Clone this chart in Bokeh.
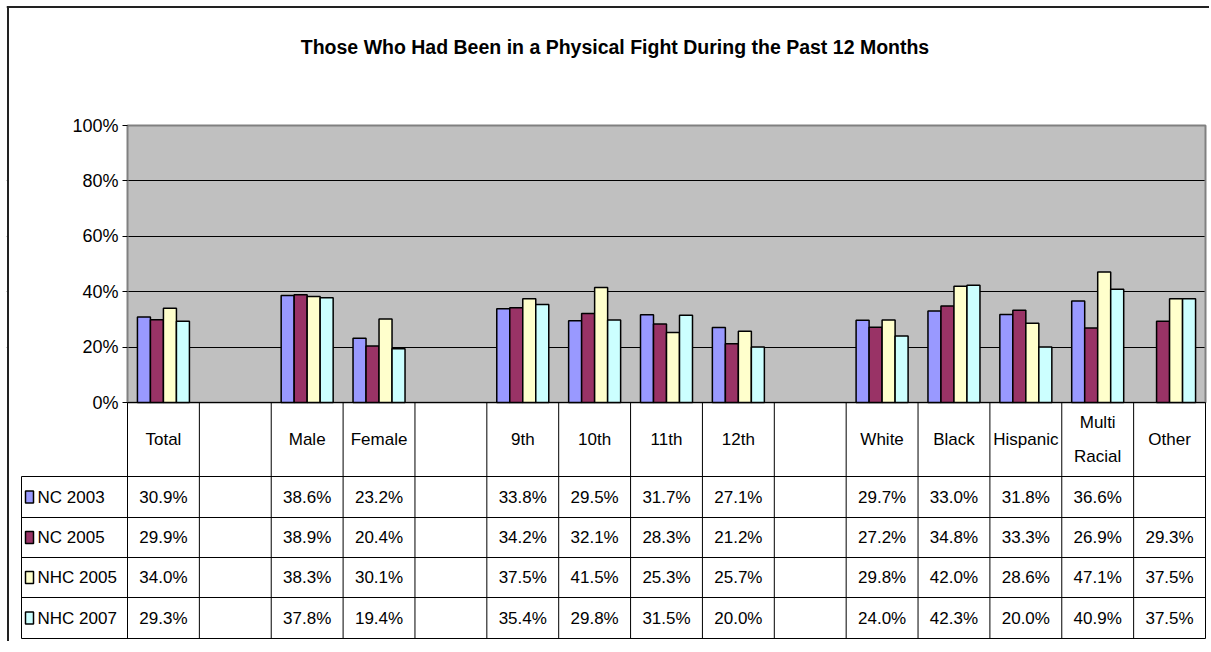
import math
from bokeh.plotting import figure
from bokeh.models import ColumnDataSource, Range1d, FixedTicker, NumeralTickFormatter
from bokeh.transform import dodge
from bokeh.core.properties import value
from bokeh.embed import file_html
from bokeh.resources import INLINE

# ---------------- data ----------------
categories = ["Total", "", "Male", "Female", "", "9th", "10th", "11th", "12th", "",
              "White", "Black", "Hispanic", "Multi Racial", "Other"]
series_names = ["NC 2003", "NC 2005", "NHC 2005", "NHC 2007"]
nan = float("nan")
nc2003 = [30.9, nan, 38.6, 23.2, nan, 33.8, 29.5, 31.7, 27.1, nan, 29.7, 33.0, 31.8, 36.6, nan]
nc2005 = [29.9, nan, 38.9, 20.4, nan, 34.2, 32.1, 28.3, 21.2, nan, 27.2, 34.8, 33.3, 26.9, 29.3]
nhc2005 = [34.0, nan, 38.3, 30.1, nan, 37.5, 41.5, 25.3, 25.7, nan, 29.8, 42.0, 28.6, 47.1, 37.5]
nhc2007 = [29.3, nan, 37.8, 19.4, nan, 35.4, 29.8, 31.5, 20.0, nan, 24.0, 42.3, 20.0, 40.9, 37.5]
y_ticks = [0, 0.2, 0.4, 0.6, 0.8, 1.0]
grid_ticks = [0.2, 0.4, 0.6, 0.8]
colors = ["#9999FF", "#993366", "#FFFFCC", "#CCFFFF"]
title = "Those Who Had Been in a Physical Fight During the Past 12 Months"

series = [nc2003, nc2005, nhc2005, nhc2007]

# ---------------- layout constants (page pixels) ----------------
FONT = "Liberation Sans"
N = len(categories)
PLOT_L, PLOT_R = 127, 1205     # plot area left / right
PLOT_T, PLOT_B = 125, 402      # 100 % / 0 % lines
PX = PLOT_B - PLOT_T           # pixels for 100 %
U = (PLOT_R - PLOT_L) / N      # pixels per category
FL, FR, FT, FB = 6, 1209, 5, 641   # frame box on the page
AXIS_W = 70                    # left panel (kept off-page)


def X(page_x):
    return (page_x - PLOT_L) / U


def Y(page_y):
    return (PLOT_B - page_y) / PX


idx = [i + 0.5 for i in range(N)]

p = figure(width=AXIS_W + FR - FL, height=FB - FT,
           x_range=Range1d(X(FL), X(FR)), y_range=Range1d(Y(FB), Y(FT)),
           output_backend="svg", toolbar_location=None, x_axis_location=None,
           min_border_left=AXIS_W, min_border_right=0, min_border_top=0, min_border_bottom=0,
           margin=(FT, 0, 0, FL - AXIS_W))
p.background_fill_color = "white"
p.border_fill_color = "white"
p.outline_line_color = None
p.xgrid.grid_line_color = None
p.ygrid.ticker = FixedTicker(ticks=grid_ticks)
p.ygrid.grid_line_color = "black"
p.ygrid.grid_line_width = 1

ax = p.yaxis[0]
ax.fixed_location = 0
ax.ticker = FixedTicker(ticks=y_ticks)
ax.formatter = NumeralTickFormatter(format="0%")
ax.major_label_text_font = FONT
ax.major_label_text_font_size = "18px"
ax.major_label_text_color = "black"
ax.major_tick_out = 5
ax.major_tick_in = 0
ax.major_label_standoff = 4
ax.minor_tick_line_color = None
ax.axis_line_color = None
ax.major_tick_line_color = "black"

# gray plot area (under the grid lines)
p.quad(left=[0], right=[N], bottom=[0], top=[1], fill_color="#C0C0C0", line_color=None,
       level="underlay")
# keep grid lines inside the plot area
p.quad(left=[X(FL)], right=[0], bottom=[0], top=[1], fill_color="white", line_color=None)
p.quad(left=[N], right=[X(FR)], bottom=[0], top=[1], fill_color="white", line_color=None)
p.quad(left=[0], right=[N], bottom=[0], top=[1], fill_color=None, line_color="#808080", line_width=2)

# outer chart border (top / left)
p.segment(x0=[X(FL), X(7.5)], y0=[Y(6.5), Y(6.5)], x1=[X(FR), X(7.5)], y1=[Y(6.5), Y(FB)],
          line_color="#222222", line_width=2)

# title
p.text(x=[X(614.5)], y=[Y(46)], text=[title], text_align="center", text_baseline="middle",
       text_font=value(FONT), text_font_size="19.5px", text_font_style="bold", text_color="black")

# ---------------- bars ----------------
src = ColumnDataSource(dict(x=idx, **{name: [v / 100 for v in s] for name, s in zip(series_names, series)}))
bar_w = 13 / U
offsets = [(-1.5 + k) * bar_w for k in range(4)]
for k, name in enumerate(series_names):
    p.vbar(x=dodge("x", offsets[k], range=p.x_range), top=name, width=bar_w, bottom=0,
           fill_color=colors[k], line_color="black", line_width=1.5, source=src)

# ---------------- data table ----------------
row_edges = [476, 517, 557, 597, 638]
row_centers = [(row_edges[k] + row_edges[k + 1]) / 2 for k in range(4)]
LEG_L = 21

bounds = list(range(N + 1))
p.segment(x0=bounds, y0=[0] * len(bounds), x1=bounds, y1=[Y(row_edges[-1])] * len(bounds),
          line_color="black", line_width=1)
p.segment(x0=[X(LEG_L)], y0=[Y(row_edges[0])], x1=[X(LEG_L)], y1=[Y(row_edges[-1])],
          line_color="black", line_width=1)
p.segment(x0=[0] + [X(LEG_L)] * len(row_edges), y0=[0] + [Y(e) for e in row_edges],
          x1=[N] * (len(row_edges) + 1), y1=[0] + [Y(e) for e in row_edges],
          line_color="black", line_width=1)

labels = [c.replace(" ", "\n") for c in categories]
p.text(x=idx, y=[Y((PLOT_B + row_edges[0]) / 2)] * N, text=labels, text_align="center",
       text_baseline="middle", text_font=value(FONT), text_font_size="17px", text_color="black",
       text_line_height=1.8)

for k, s in enumerate(series):
    txt = ["" if math.isnan(v) else f"{v:.1f}%" for v in s]
    p.text(x=idx, y=[Y(row_centers[k])] * N, text=txt, text_align="center", text_baseline="middle",
           text_font=value(FONT), text_font_size="17px", text_color="black")

# legend keys in the table
p.rect(x=[X(29)] * 4, y=[Y(c) for c in row_centers], width=8, height=12,
       width_units="screen", height_units="screen",
       fill_color=colors, line_color="black", line_width=1.5)
p.text(x=[X(37)] * 4, y=[Y(c) for c in row_centers], text=series_names, text_align="left",
       text_baseline="middle", text_font=value(FONT), text_font_size="17px", text_color="black")

open("out.html", "w").write(file_html(p, INLINE))
